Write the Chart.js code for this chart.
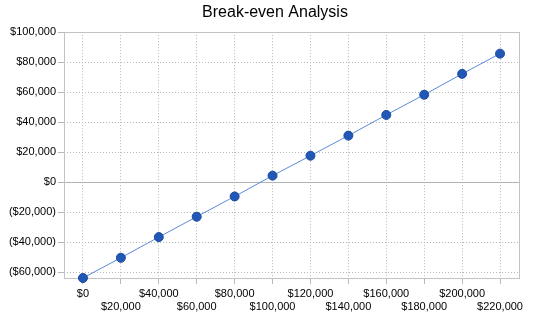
<!DOCTYPE html>
<html>
<head>
<meta charset="utf-8">
<script src="https://cdn.jsdelivr.net/npm/chart.js@4"></script>
<style>
  html, body { margin: 0; padding: 0; background: #fff; }
  #wrap { width: 550px; height: 318px; }
</style>
</head>
<body>
<div id="wrap"><canvas id="chart"></canvas></div>
<script>
// Break-even data
var salesLabels = ['$0', '$20,000', '$40,000', '$60,000', '$80,000', '$100,000',
    '$120,000', '$140,000', '$160,000', '$180,000', '$200,000', '$220,000'];
var profitValues = [-64000, -50500, -36700, -23100, -9600, 4300,
    17600, 31000, 44800, 58300, 72200, 85700];
var yTicks = [-60000, -40000, -20000, 0, 20000, 40000, 60000, 80000, 100000];

function money(v) {
    var s = '$' + Math.abs(v).toLocaleString('en-US');
    return v < 0 ? '(' + s + ')' : s;
}

// draws the box round the plot area
var frame = {
    id: 'frame',
    beforeDatasetsDraw: function(chart) {
        var a = chart.chartArea, ctx = chart.ctx;
        ctx.save();
        ctx.strokeStyle = '#c0c4c8';
        ctx.lineWidth = 1;
        ctx.strokeRect(Math.round(a.left) + 0.5, Math.round(a.top) + 0.5,
            Math.round(a.right - a.left), Math.round(a.bottom - a.top));
        ctx.restore();
    }
};

var font = { family: 'Arial, "Liberation Sans", sans-serif', size: 11 };

new Chart(document.getElementById('chart'), {
    type: 'line',
    data: {
        labels: salesLabels,
        datasets: [{
            data: profitValues,
            borderColor: '#5b8bd9',
            borderWidth: 1,
            backgroundColor: '#2158b8',
            pointBorderColor: '#1a4a9c',
            pointBorderWidth: 1,
            pointRadius: 4.5,
            tension: 0,
            clip: false
        }]
    },
    options: {
        responsive: true,
        maintainAspectRatio: false,
        animation: false,
        layout: { padding: 0 },
        plugins: {
            legend: { display: false },
            tooltip: { enabled: false },
            title: {
                display: true,
                text: 'Break-even Analysis',
                color: '#000',
                font: { family: font.family, size: 16, weight: 'normal' },
                padding: { top: 3, bottom: 10 }
            }
        },
        scales: {
            x: {
                offset: true,
                grid: { color: '#b8b8b8', tickLength: 6, offset: false },
                border: { display: false, dash: [1, 2] },
                ticks: {
                    color: '#000',
                    font: font,
                    padding: 3,
                    maxRotation: 0,
                    autoSkip: false,
                    callback: function(v, i) {
                        return i % 2 === 0 ? [salesLabels[i], ''] : ['', salesLabels[i]];
                    }
                },
                afterFit: function(s) { s.height = 40; }
            },
            y: {
                min: -64000,
                max: 100000,
                afterBuildTicks: function(s) {
                    s.ticks = yTicks.map(function(v) { return { value: v }; });
                },
                grid: {
                    tickLength: 6,
                    color: function(c) { return c.tick && c.tick.value === 0 ? '#b0b4b8' : '#b8b8b8'; }
                },
                border: {
                    display: false,
                    dash: function(c) { return c.tick && c.tick.value === 0 ? [] : [1, 2]; }
                },
                ticks: {
                    color: '#000',
                    font: font,
                    padding: 2,
                    callback: function(v) { return money(v); }
                },
                afterFit: function(s) { s.width = 64; }
            },
            // empty right axis, only keeps the right margin
            yRight: {
                position: 'right',
                grid: { display: false },
                border: { display: false },
                ticks: { display: false },
                afterFit: function(s) { s.width = 31; }
            }
        }
    },
    plugins: [frame]
});
</script>
</body>
</html>
